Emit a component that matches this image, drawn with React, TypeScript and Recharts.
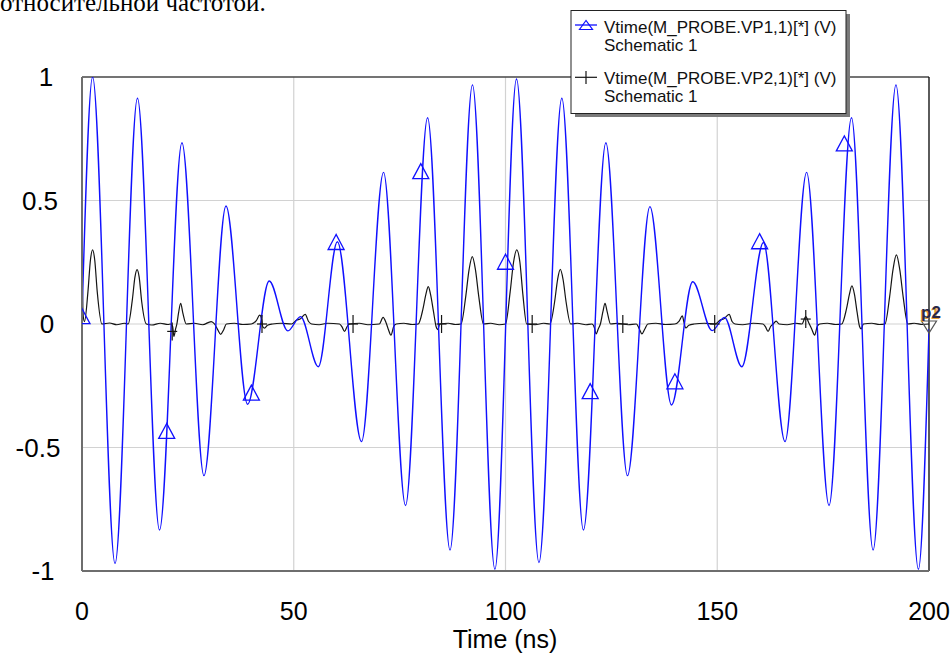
import React from 'react';
import {
  ComposedChart,
  Line,
  Scatter,
  XAxis,
  YAxis,
  CartesianGrid,
  ReferenceLine,
  ReferenceDot,
} from 'recharts';

// ---- tick labels ----
const xTicks = [0, 50, 100, 150, 200];
const yTicks = [-1, -0.5, 0, 0.5, 1];
const xAxisTitle = 'Time (ns)';
const legendNames = ['Vtime(M_PROBE.VP1,1)[*] (V)', 'Vtime(M_PROBE.VP2,1)[*] (V)'];
const legendSub = 'Schematic 1';
const headerText = 'относительной частотой.';

// ---- VP1 (blue): extrema, [time ns, volts] ----
const vp1Points: [number, number][] = [
  [0, 0.03], [2.5, 1.0], [7.8, -0.97], [13.1, 0.914], [18.3, -0.834], [23.6, 0.734],
  [28.8, -0.614], [34.0, 0.478], [39.1, -0.325], [44.2, 0.174], [48.6, -0.028],
  [51.6, 0.03], [55.8, -0.173], [60.3, 0.333], [66.0, -0.476], [71.2, 0.614],
  [76.4, -0.735], [81.6, 0.835], [86.9, -0.915], [92.2, 0.968], [97.5, -0.993],
  [102.6, 0.992], [107.9, -0.966], [113.3, 0.914], [118.4, -0.834], [123.7, 0.734],
  [128.8, -0.614], [134.1, 0.475], [139.2, -0.328], [144.2, 0.171], [148.8, -0.027],
  [151.7, 0.027], [155.8, -0.173], [160.9, 0.33], [166.0, -0.476], [171.1, 0.614],
  [176.4, -0.735], [181.7, 0.835], [186.8, -0.915], [192.2, 0.968], [197.5, -0.993],
  [200, -0.02],
];

// ---- VP1 triangle markers ----
const vp1Markers: [number, number][] = [
  [0, 0.03], [20, -0.435], [40, -0.28], [60, 0.33], [80, 0.617], [100, 0.25],
  [120, -0.274], [140, -0.234], [160, 0.333], [180, 0.729],
];

// ---- VP2 (black) ----
const vp2Points: [number, number][] = [
  [0, 0.23], [0.3, 0.03], [0.6, 0.01], [1.4, 0.13], [2.0, 0.26], [2.5, 0.3], [3.0, 0.26], [3.6, 0.13], [4.7, 0],
  [6.5, 0.004], [8.2, -0.003], [10.0, 0.003],
  [10.9, 0], [11.9, 0.1], [12.5, 0.19], [13.0, 0.22], [13.5, 0.19], [14.1, 0.09], [15.2, 0],
  [16.5, -0.004], [18.5, 0.003], [20.3, -0.002],
  [20.9, 0], [21.4, -0.01], [21.7, -0.05], [22.1, -0.02], [22.4, 0], [22.8, 0.045], [23.3, 0.084], [23.8, 0.045], [24.6, 0],
  [26.5, 0.003], [28.5, -0.003], [30.5, 0.01], [31.3, 0], [32.1, -0.025], [32.75, -0.042], [33.4, -0.025], [34.1, 0],
  [36, 0.003], [38, -0.002], [40, 0], [41.2, 0.015], [41.96, 0.036], [42.4, 0.02], [42.7, -0.012], [43.1, -0.017], [43.8, -0.005], [45, 0], [47, 0.003],
  [49.5, 0], [50.6, 0.015], [51.5, 0.02], [52.7, 0.039], [53.5, 0.01], [54.2, 0],
  [56, -0.003], [58, 0.003], [60.8, 0], [61.4, -0.012], [62.0, -0.03], [62.6, -0.01], [63.2, 0],
  [65.5, 0.003], [67.5, -0.003], [70.2, 0], [71.1, 0.027], [71.8, 0.005], [72.3, -0.02], [72.96, -0.045], [73.6, -0.01], [74.2, 0],
  [76, 0.003], [78, -0.002], [79.4, 0], [80.5, 0.06], [81.2, 0.12], [81.77, 0.151], [82.3, 0.12], [83.0, 0.05], [83.6, -0.01], [84.0, -0.023], [84.5, 0],
  [86.5, 0.003], [88.2, -0.002], [89.5, 0], [90.6, 0.11], [91.4, 0.22], [92.16, 0.273], [92.9, 0.22], [93.7, 0.11], [94.8, 0],
  [96.5, 0.003], [98.5, -0.003], [100.0, 0], [101.1, 0.13], [101.9, 0.25], [102.65, 0.3], [103.4, 0.25], [104.1, 0.12], [105.0, 0],
  [107, -0.003], [109, 0.003], [110.5, 0], [111.6, 0.09], [112.3, 0.18], [112.94, 0.221], [113.6, 0.18], [114.3, 0.09], [115.4, 0],
  [117, 0.003], [119, -0.003], [120.4, 0], [121.0, -0.015], [121.4, -0.04], [121.9, -0.02], [122.4, 0], [123.0, 0.05], [123.5, 0.084], [124.0, 0.05], [124.8, 0],
  [126.5, 0.003], [129, -0.003], [130.9, 0], [131.6, -0.02], [132.2, -0.04], [132.9, -0.02], [133.6, 0],
  [135.5, 0.003], [137.8, -0.002], [140.0, 0], [141.0, 0.012], [141.75, 0.033], [142.1, 0.01], [142.55, -0.016], [143.3, -0.005], [144.5, 0], [147, 0.003],
  [149.5, 0], [150.6, 0.015], [151.5, 0.02], [152.8, 0.039], [153.5, 0.01], [154.2, 0],
  [156, -0.003], [158.5, 0.003], [160.8, 0], [161.4, -0.012], [162.0, -0.03], [162.6, -0.01], [163.2, 0], [163.9, 0.012], [164.6, 0],
  [166.5, -0.003], [168.5, 0.003], [170.0, 0], [170.9, 0.03], [171.6, 0.005], [172.3, -0.02], [173.0, -0.045], [173.6, -0.01], [174.2, 0],
  [176, 0.003], [178, -0.002], [179.4, 0], [180.5, 0.06], [181.2, 0.12], [181.8, 0.154], [182.4, 0.12], [183.0, 0.05], [183.6, -0.01], [184.0, -0.02], [184.5, 0],
  [186.5, 0.003], [188.3, -0.002], [189.6, 0], [190.7, 0.11], [191.5, 0.22], [192.3, 0.28], [193.1, 0.22], [193.9, 0.11], [195.0, 0],
  [196.5, 0.003], [198.5, -0.002], [200, 0],
];

// ---- VP2 cross markers ----
const vp2Markers: [number, number][] = [
  [21.3, -0.03], [42.5, 0.0], [64.0, 0], [84.9, 0], [106.3, 0], [127.7, 0], [149.4, 0], [170.9, 0.02],
];

// ---- end marker (p1 / p2) ----
const endMarker = { t: 200, v: 0, labels: ['p1', 'p2'] };

const toRows = (pts: [number, number][]) => pts.map(([t, v]) => ({ t, v }));
const vp1Data = toRows(vp1Points);
const vp2Data = toRows(vp2Points);
const vp1MarkerData = toRows(vp1Markers);
const vp2MarkerData = toRows(vp2Markers);

const BLUE = '#1010ff';
const BLACK = '#141414';
const FONT = '"Liberation Sans", Arial, sans-serif';

const yLabelX: Record<string, number> = { '1': 46, '0.5': 40, '0': 47, '-0.5': 38, '-1': 43 };

const YTick = (props: any) => {
  const { y, payload } = props;
  const key = String(payload.value);
  return (
    <text x={yLabelX[key] ?? 45} y={y + 9} textAnchor="middle" fontFamily={FONT} fontSize={26} fill="#000">
      {key}
    </text>
  );
};

const XTick = (props: any) => {
  const { x, payload } = props;
  return (
    <text x={x} y={620} textAnchor="middle" fontFamily={FONT} fontSize={25} fill="#000">
      {String(payload.value)}
    </text>
  );
};

const TriUp = (props: any) => {
  const { cx, cy } = props;
  if (cx == null || cy == null) return null;
  return (
    <polygon
      points={`${cx},${cy - 8} ${cx - 8},${cy + 7} ${cx + 8},${cy + 7}`}
      fill="none"
      stroke={BLUE}
      strokeWidth={1.3}
    />
  );
};

const Cross = (props: any) => {
  const { cx, cy } = props;
  if (cx == null || cy == null) return null;
  return (
    <g stroke={BLACK} strokeWidth={1.2}>
      <line x1={cx} y1={cy - 9} x2={cx} y2={cy + 9} />
      <line x1={cx - 5} y1={cy} x2={cx + 5} y2={cy} />
    </g>
  );
};

const EndMark = (props: any) => {
  const { cx, cy } = props;
  if (cx == null || cy == null) return null;
  return (
    <g>
      <polygon
        points={`${cx - 7.5},${cy - 3} ${cx + 7.5},${cy - 3} ${cx},${cy + 9}`}
        fill="none"
        stroke="#555"
        strokeWidth={1.2}
      />
      <text x={cx - 9} y={cy - 5} fontFamily={FONT} fontSize={17} fontWeight="bold" fill="#e8a030">
        {endMarker.labels[0]}
      </text>
      <text x={cx - 8} y={cy - 6} fontFamily={FONT} fontSize={17} fontWeight="bold" fill="#28284a">
        {endMarker.labels[1]}
      </text>
    </g>
  );
};

export default function App() {
  return (
    <div style={{ position: 'absolute', left: 0, top: 0, width: 951, height: 655, overflow: 'hidden', background: '#fff' }}>
      <ComposedChart width={951} height={655} margin={{ top: 77, right: 22, bottom: 0, left: 0 }}>
        <CartesianGrid stroke="#d2d2d2" strokeWidth={1.2} />
        <XAxis
          dataKey="t"
          type="number"
          domain={[0, 200]}
          ticks={xTicks}
          interval={0}
          height={84}
          allowDataOverflow
          tickLine={false}
          axisLine={{ stroke: '#6e6e6e', strokeWidth: 2 }}
          tick={<XTick />}
        />
        <YAxis
          type="number"
          domain={[-1, 1]}
          ticks={yTicks}
          interval={0}
          width={82}
          allowDataOverflow
          tickLine={false}
          axisLine={{ stroke: '#6e6e6e', strokeWidth: 2 }}
          tick={<YTick />}
        />
        <ReferenceLine y={1} stroke="#000" strokeWidth={1.2} />
        <ReferenceLine x={200} stroke="#000" strokeWidth={1.2} />
        <Line
          data={vp2Data}
          dataKey="v"
          type="monotone"
          stroke={BLACK}
          strokeWidth={1.2}
          dot={false}
          isAnimationActive={false}
        />
        <Line
          data={vp1Data}
          dataKey="v"
          type="monotone"
          stroke={BLUE}
          strokeWidth={1.4}
          dot={false}
          isAnimationActive={false}
        />
        <Scatter data={vp2MarkerData} dataKey="v" shape={<Cross />} isAnimationActive={false} />
        <Scatter data={vp1MarkerData} dataKey="v" shape={<TriUp />} isAnimationActive={false} />
        <ReferenceDot x={endMarker.t} y={endMarker.v} ifOverflow="visible" shape={<EndMark />} />
      </ComposedChart>

      <svg
        width={951}
        height={655}
        style={{ position: 'absolute', left: 0, top: 0, pointerEvents: 'none' }}
      >
        <text x={0} y={11} fontFamily='"Liberation Serif", "Times New Roman", serif' fontSize={25} fill="#000">
          {headerText}
        </text>
        <text x={505} y={648} textAnchor="middle" fontFamily={FONT} fontSize={25} fill="#000">
          {xAxisTitle}
        </text>
        {/* legend */}
        <rect x={575} y={14} width={275} height={103} fill="#7a7a7a" />
        <rect x={571} y={10.5} width={275} height={103} fill="#fff" stroke="#222" strokeWidth={1} />
        <line x1={575} y1={25} x2={597} y2={25} stroke={BLUE} strokeWidth={1.3} />
        <polygon points="586,20.5 579.5,29.5 592.5,29.5" fill="none" stroke={BLUE} strokeWidth={1.2} />
        <text x={604} y={32.5} fontFamily={FONT} fontSize={17} fill="#111">{legendNames[0]}</text>
        <text x={604} y={50.5} fontFamily={FONT} fontSize={17} fill="#111">{legendSub}</text>
        <line x1={575} y1={77.3} x2={597} y2={77.3} stroke={BLACK} strokeWidth={1.2} />
        <line x1={586} y1={71} x2={586} y2={84} stroke={BLACK} strokeWidth={1.2} />
        <text x={604} y={83.5} fontFamily={FONT} fontSize={17} fill="#111">{legendNames[1]}</text>
        <text x={604} y={101.5} fontFamily={FONT} fontSize={17} fill="#111">{legendSub}</text>
      </svg>
    </div>
  );
}
